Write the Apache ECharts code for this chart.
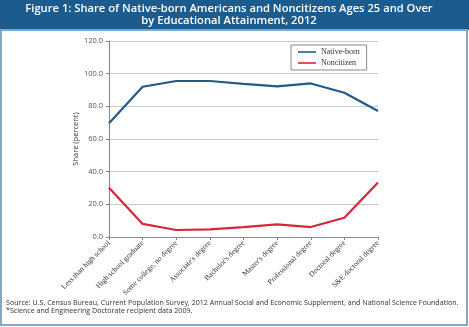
<!DOCTYPE html>
<html><head><meta charset="utf-8">
<script src="https://cdn.jsdelivr.net/npm/echarts@6/dist/echarts.min.js"></script>
<style>html,body{margin:0;padding:0;background:#fff}#c{width:469px;height:327px}</style>
</head><body><div id="c"></div>
<script>
var categories = ["Less than high school","High school graduate","Some college, no degree","Associate's degree","Bachelor's degree","Master's degree","Professional degree","Doctoral degree","S&E doctoral degree"];
var nativeBorn = [69.7, 92.0, 95.5, 95.5, 93.8, 92.2, 94.0, 88.3, 77.1];
var noncitizen = [30.2, 8.0, 4.3, 4.7, 6.1, 7.7, 6.1, 11.8, 33.3];
var yTicks = {min: 0, max: 120, interval: 20};

var chart = echarts.init(document.getElementById('c'), null, {renderer: 'canvas'});
chart.setOption({
  animation: false,
  backgroundColor: '#fff',
  graphic: [
    {type: 'rect', z: -1, shape: {x: 0, y: 0, width: 469, height: 30}, style: {fill: '#1c5b8d'}},
    {type: 'rect', z: -1, shape: {x: 1, y: 30, width: 466, height: 295}, style: {fill: 'none', stroke: '#86a6c4', lineWidth: 2}},
    {type: 'text', x: 229, y: 3, style: {text: 'Figure 1: Share of Native-born Americans and Noncitizens Ages 25 and Over\nby Educational Attainment, 2012', fill: '#fff', font: '600 11.2px "Open Sans"', lineHeight: 12, align: 'center', verticalAlign: 'top'}},
    {type: 'text', left: 6, top: 299, style: {text: 'Source: U.S. Census Bureau, Current Population Survey, 2012 Annual Social and Economic Supplement, and National Science Foundation.\n*Science and Engineering Doctorate recipient data 2009.', fill: '#333', font: '7.1px "Open Sans"', lineHeight: 8}}
  ],
  legend: {
    orient: 'vertical', left: 291, top: 45,
    padding: [3, 7, 3, 7], itemGap: 3,
    borderColor: '#888', borderWidth: 1,
    itemWidth: 18, itemHeight: 8,
    textStyle: {fontFamily: 'Liberation Serif', fontSize: 8, color: '#333'},
    data: [
      {name: 'Native-born', icon: 'path://M0,3.2H18V4.8H0Z'},
      {name: 'Noncitizen', icon: 'path://M0,3.2H18V4.8H0Z'}
    ]
  },
  grid: {left: 109, right: 91, top: 41, bottom: 90, containLabel: false},
  xAxis: {
    type: 'category', data: categories, boundaryGap: false,
    axisLine: {lineStyle: {color: '#888'}},
    axisTick: {show: true, alignWithLabel: true, length: 3, lineStyle: {color: '#888'}},
    axisLabel: {rotate: 45, fontFamily: 'Liberation Serif', fontSize: 7.5, color: '#333', margin: 5, interval: 0}
  },
  yAxis: {
    type: 'value', min: yTicks.min, max: yTicks.max, interval: yTicks.interval,
    name: 'Share (percent)', nameLocation: 'middle', nameGap: 29, nameRotate: 90, nameMoveOverlap: false,
    nameTextStyle: {fontFamily: 'Open Sans', fontSize: 7.5, color: '#333'},
    axisLine: {show: true, lineStyle: {color: '#888'}},
    axisTick: {show: true, length: 3, lineStyle: {color: '#888'}},
    axisLabel: {fontFamily: 'Open Sans', fontSize: 7.5, color: '#555', margin: 6, formatter: function(v){return v.toFixed(1);}},
    splitLine: {lineStyle: {color: '#c8c8c8'}}
  },
  series: [
    {name: 'Native-born', type: 'line', data: nativeBorn, showSymbol: false, symbol: 'none', lineStyle: {color: '#1f5b8c', width: 2.2}, itemStyle: {color: '#1f5b8c'}},
    {name: 'Noncitizen', type: 'line', data: noncitizen, showSymbol: false, symbol: 'none', lineStyle: {color: '#d3283c', width: 2.2}, itemStyle: {color: '#d3283c'}}
  ]
});
</script></body></html>
